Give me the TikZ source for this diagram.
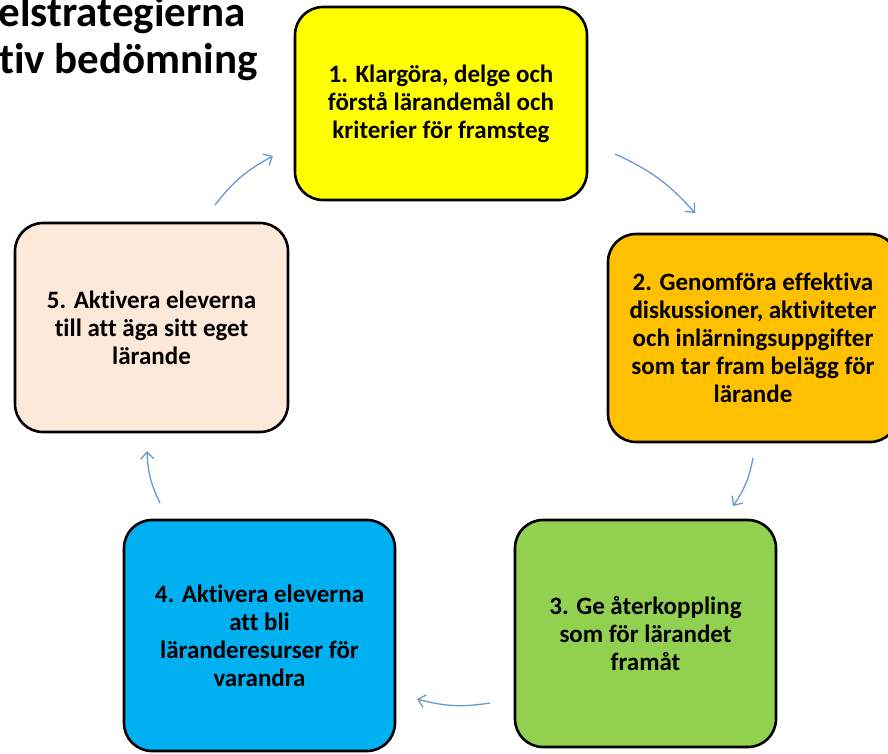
\documentclass[tikz,border=0pt]{standalone}
\usepackage{fontspec}
\setmainfont{Carlito}[Ligatures=NoCommon]
\usetikzlibrary{arrows.meta}
\definecolor{stepyellow}{HTML}{FFFF00}
\definecolor{steporange}{HTML}{FFC000}
\definecolor{stepgreen}{HTML}{92D050}
\definecolor{stepblue}{HTML}{00B0F0}
\definecolor{steppeach}{HTML}{FDE9D9}
\definecolor{arrowblue}{HTML}{6A98D4}

\begin{document}
\begin{tikzpicture}[x=1pt,y=-1pt,
    strategy/.style={draw=black, line width=2.6pt, rounded corners=28pt, align=center,
      inner sep=0pt, font=\bfseries\fontsize{25}{28}\selectfont},
    titletext/.style={anchor=base east, inner sep=0pt, font=\bfseries\fontsize{43}{48}\selectfont},
    cyclearrow/.style={draw=arrowblue, line width=1.3pt, -{Straight Barb[length=7pt,width=13pt]}, bend left=12}]
    \useasboundingbox (0,0) rectangle (888,753);
    \clip (0,0) rectangle (888,753);
    % title, cut at the left edge
    \node[titletext] (title1) at (246,26) {elstrategierna};
    \node[titletext] (title2) at (258,73) {tiv bedömning};
    % the five strategies
    \node[strategy, fill=stepyellow, minimum width=292pt, minimum height=193pt] (s1) at (441,103.5)
        {1. Klargöra, delge och\\förstå lärandemål och\\kriterier för framsteg};
    \node[strategy, fill=steporange, minimum width=290pt, minimum height=208pt] (s2) at (753,338)
        {2. Genomföra effektiva\\diskussioner, aktiviteter\\och inlärningsuppgifter\\som tar fram belägg för\\lärande};
    \node[strategy, fill=stepgreen, minimum width=261pt, minimum height=227pt] (s3) at (645.5,633.5)
        {3. Ge återkoppling\\som för lärandet\\framåt};
    \node[strategy, fill=stepblue, minimum width=271pt, minimum height=231pt] (s4) at (259.5,635.5)
        {4. Aktivera eleverna\\att bli\\läranderesurser för\\varandra};
    \node[strategy, fill=steppeach, minimum width=273pt, minimum height=209pt] (s5) at (151.5,327.5)
        {5. Aktivera eleverna\\till att äga sitt eget\\lärande};
    % arrow ends between the boxes
    \coordinate (a51) at (215,205);  \coordinate (b51) at (273,156);
    \coordinate (a12) at (615,154);  \coordinate (b12) at (695,213);
    \coordinate (a23) at (753,458);  \coordinate (b23) at (733,506);
    \coordinate (a34) at (490,703);  \coordinate (b34) at (417,699);
    \coordinate (a45) at (160,503);  \coordinate (b45) at (147,451);
    \foreach \pair in {51,12,23,34,45}
        \draw[cyclearrow] (a\pair) to (b\pair);
\end{tikzpicture}
\end{document}
